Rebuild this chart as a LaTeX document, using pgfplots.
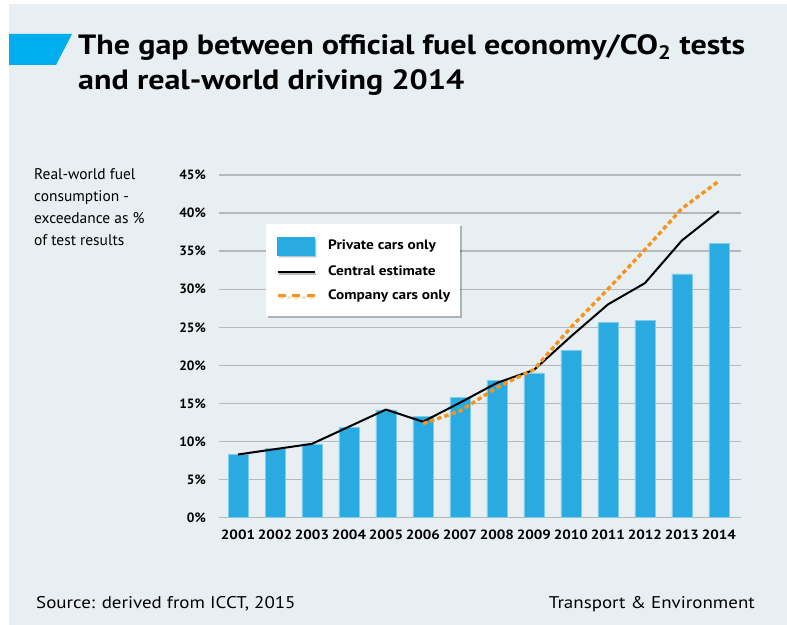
\documentclass[border=0pt]{standalone}
\usepackage{fontspec}
\setmainfont{PT Sans}
\newfontfamily\titlefont{PT Sans}[FakeStretch=1.15]
\newfontfamily\widefont{PT Sans}[FakeStretch=1.12]
\newfontfamily\tickfont{PT Sans}[FakeStretch=1.12]
\usepackage{pgfplots}
\pgfplotsset{compat=1.18}
\usetikzlibrary{shadows}
\definecolor{bg}{HTML}{E8EFF2}
\definecolor{titleblue}{HTML}{00AEEF}
\definecolor{barblue}{HTML}{29ABE2}
\definecolor{gridgray}{HTML}{B4B9BC}
\definecolor{comporange}{HTML}{F7941D}
\begin{document}
\begin{tikzpicture}[x=1bp,y=1bp]
\fill[white] (0,0) rectangle (787,625);
\fill[bg] (9,0) rectangle (787,621);
\fill[titleblue] (9,591) -- (72,591) -- (56,560) -- (9,560) -- cycle;
\node[anchor=base west, inner sep=0pt, font=\titlefont\bfseries\fontsize{28}{34}\selectfont] at (78,570.5) {The gap between official fuel economy/CO\textsubscript{2} tests};
\node[anchor=base west, inner sep=0pt, font=\titlefont\bfseries\fontsize{28}{34}\selectfont] at (78,535) {and real-world driving 2014};
\node[anchor=base west, inner sep=0pt, font=\fontsize{15.5}{18}\selectfont] at (34,445) {Real-world fuel};
\node[anchor=base west, inner sep=0pt, font=\fontsize{15.5}{18}\selectfont] at (34,423.3) {consumption -};
\node[anchor=base west, inner sep=0pt, font=\fontsize{15.5}{18}\selectfont] at (34,401.6) {exceedance as \%};
\node[anchor=base west, inner sep=0pt, font=\fontsize{15.5}{18}\selectfont] at (34,379.9) {of test results};
\node[anchor=base west, inner sep=0pt, font=\widefont\fontsize{17}{20}\selectfont] at (36,16) {Source: derived from ICCT, 2015};
\node[anchor=base east, inner sep=0pt, font=\widefont\fontsize{17}{20}\selectfont] at (755,16) {Transport \& Environment};
\begin{axis}[
  at={(219bp,107.3bp)}, anchor=south west,
  scale only axis, width=521.7bp, height=342.7bp,
  xmin=2000.486, xmax=2014.59, ymin=0, ymax=45,
  axis line style={draw=none},
  ytick={0,5,...,45}, xtick={2001,...,2014},
  ymajorgrids, grid style={gridgray, line width=1.3bp},
  major tick length=0pt, tick style={draw=none},
  /pgf/number format/assume math mode=true,
  /pgf/number format/1000 sep={},
  yticklabel={\pgfmathprintnumber{\tick}\%},
  yticklabel style={font=\bfseries\fontsize{13.5}{16}\selectfont, anchor=east, inner sep=0pt, xshift=-13bp},
  xticklabel style={font=\tickfont\bfseries\fontsize{13.5}{16}\selectfont, anchor=base, inner sep=0pt, yshift=-22bp},
  legend style={at={(0.0901,0.859)}, anchor=north west, fill=white, draw=none,
    drop shadow={shadow xshift=1.5bp, shadow yshift=-2bp, fill=black, opacity=0.25},
    font=\widefont\bfseries\fontsize{13.7}{16}\selectfont,
    inner xsep=10bp, inner ysep=13.5bp, row sep=10.5bp,
    nodes={inner sep=0pt, text height=10bp, text depth=3bp},
    /tikz/every odd column/.append style={column sep=12bp}},
  legend cell align=left,
]
\addplot[ybar, bar width=20bp, fill=barblue, draw=barblue!60!white, line width=0.6bp,
  legend image code/.code={\fill[barblue] (0bp,-8.8bp) rectangle (37bp,8.8bp);}]
  coordinates {(2001,8.3)(2002,9.05)(2003,9.7)(2004,11.9)(2005,14.15)(2006,13.3)(2007,15.8)(2008,18.0)(2009,19.0)(2010,21.95)(2011,25.6)(2012,25.9)(2013,32.0)(2014,36.0)};
\addlegendentry{Private cars only}
\addplot[black, line width=2bp, mark=none,
  legend image code/.code={\draw[black, line width=2bp] (0bp,0bp) -- (37bp,0bp);}]
  coordinates {(2001,8.3)(2002,9.0)(2003,9.7)(2004,11.95)(2005,14.2)(2006,12.6)(2007,15.1)(2008,17.7)(2009,19.4)(2010,23.8)(2011,28.0)(2012,30.8)(2013,36.4)(2014,40.25)};
\addlegendentry{Central estimate}
\addplot[comporange, line width=3.4bp, dash pattern=on 4.5bp off 3bp, mark=none,
  legend image code/.code={\draw[comporange, line width=3bp, dash pattern=on 8bp off 6.5bp] (0bp,0bp) -- (37bp,0bp);}]
  coordinates {(2006,12.35)(2007,14.0)(2008,17.1)(2009,19.45)(2010,25.0)(2011,30.0)(2012,35.2)(2013,40.6)(2014,44.2)};
\addlegendentry{Company cars only}
\end{axis}
\end{tikzpicture}
\end{document}
